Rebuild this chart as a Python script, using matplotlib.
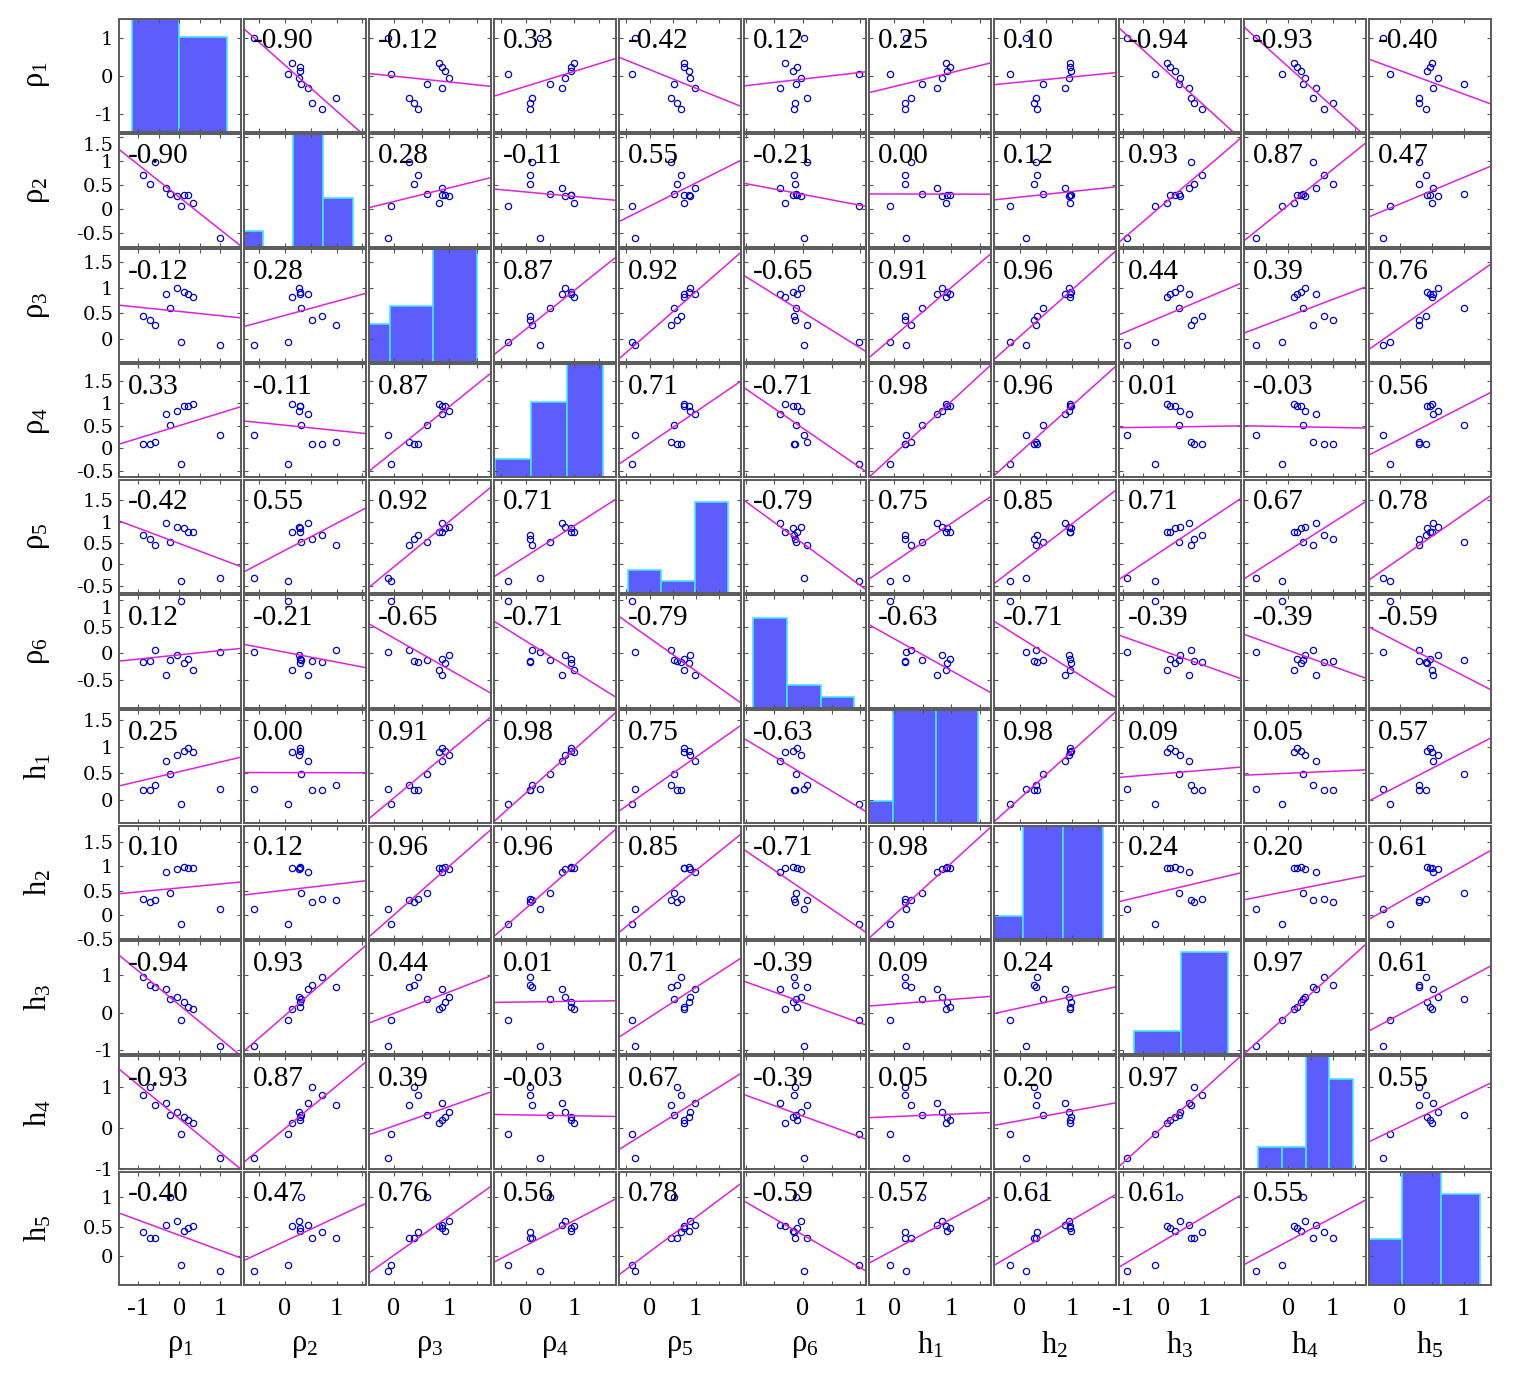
import numpy as np
import matplotlib
matplotlib.use('Agg')
import matplotlib.pyplot as plt
from matplotlib.ticker import MultipleLocator

plt.rcParams['mathtext.fontset'] = 'custom'
plt.rcParams['mathtext.rm'] = 'Liberation Serif'
plt.rcParams['mathtext.it'] = 'Liberation Serif:italic'
plt.rcParams['axes.unicode_minus'] = False

# 11 observations of each variable (same order in every list)
rho1 = [-0.88, -0.71, -0.585, -0.32, -0.22, -0.07, 0.04, 0.12, 0.22, 0.325, 1.0]
rho2 = [0.715, 0.53, 0.98, 0.44, 0.32, 0.28, 0.06, 0.285, 0.285, 0.13, -0.60]
rho3 = [0.44, 0.36, 0.27, 0.87, 0.60, 1.00, -0.05, 0.92, 0.87, 0.82, -0.11]
rho4 = [0.10, 0.09, 0.13, 0.75, 0.51, 0.82, -0.36, 0.94, 0.93, 0.99, 0.30]
rho5 = [0.68, 0.59, 0.46, 0.98, 0.52, 0.87, -0.38, 0.86, 0.75, 0.75, -0.31]
rho6 = [-0.16, -0.14, 0.07, -0.40, -0.12, -0.04, 0.98, -0.18, -0.10, -0.32, 0.02]
h1 = [0.19, 0.18, 0.29, 0.74, 0.48, 0.84, -0.08, 0.925, 0.98, 0.91, 0.21]
h2 = [0.33, 0.27, 0.30, 0.875, 0.45, 0.94, -0.19, 0.99, 0.97, 0.96, 0.11]
h3 = [0.955, 0.75, 0.68, 0.64, 0.38, 0.41, -0.20, 0.29, 0.16, 0.09, -0.90]
h4 = [0.81, 1.0, 0.56, 0.62, 0.33, 0.38, -0.14, 0.275, 0.19, 0.12, -0.73]
h5 = [0.41, 0.31, 0.31, 0.52, 1.0, 0.60, -0.15, 0.43, 0.47, 0.51, -0.26]

names = [r'$\mathrm{ρ}_1$', r'$\mathrm{ρ}_2$', r'$\mathrm{ρ}_3$', r'$\mathrm{ρ}_4$',
         r'$\mathrm{ρ}_5$', r'$\mathrm{ρ}_6$', r'$\mathrm{h}_1$', r'$\mathrm{h}_2$',
         r'$\mathrm{h}_3$', r'$\mathrm{h}_4$', r'$\mathrm{h}_5$']

# printed correlation coefficients (upper triangle, row by row)
corr_upper = [
    [-0.90, -0.12, 0.33, -0.42, 0.12, 0.25, 0.10, -0.94, -0.93, -0.40],
    [0.28, -0.11, 0.55, -0.21, 0.00, 0.12, 0.93, 0.87, 0.47],
    [0.87, 0.92, -0.65, 0.91, 0.96, 0.44, 0.39, 0.76],
    [0.71, -0.71, 0.98, 0.96, 0.01, -0.03, 0.56],
    [-0.79, 0.75, 0.85, 0.71, 0.67, 0.78],
    [-0.63, -0.71, -0.39, -0.39, -0.59],
    [0.98, 0.09, 0.05, 0.57],
    [0.24, 0.20, 0.61],
    [0.97, 0.61],
    [0.55],
]

# axis ranges and ticks per variable
lims = [(-1.47, 1.50), (-0.79, 1.57), (-0.45, 1.75), (-0.65, 1.86), (-0.66, 1.98),
        (-1.03, 1.10), (-0.44, 1.69), (-0.50, 1.85), (-1.10, 1.92), (-1.0, 1.75),
        (-0.48, 1.43)]
yticks = [[-1, 0, 1], [-0.5, 0, 0.5, 1, 1.5], [0, 0.5, 1, 1.5], [-0.5, 0, 0.5, 1, 1.5],
          [-0.5, 0, 0.5, 1, 1.5], [-0.5, 0, 0.5, 1], [0, 0.5, 1, 1.5],
          [-0.5, 0, 0.5, 1, 1.5], [-1, 0, 1], [-1, 0, 1], [0, 0.5, 1]]
xticks = [[-1, 0, 1], [0, 1], [0, 1], [0, 1], [0, 1], [0, 1], [0, 1], [0, 1],
          [-1, 0, 1], [0, 1], [0, 1]]

# histogram settings on the diagonal
bin_width = [1, 0.5, 0.5, 0.5, 0.5, 0.5, 0.5, 0.5, 1, 0.5, 0.5]
hist_lims = [(-1.27, 1.30), (-0.82, 1.21), (-0.24, 1.16), (-0.51, 1.18), (-0.63, 1.19),
             (-0.63, 1.17), (-0.28, 1.15), (-0.36, 1.16), (-1.33, 1.27), (-1.30, 1.27),
             (-0.43, 1.14)]
hist_top = [6, 7, 6, 6, 10, 10, 5, 5, 10, 5, 5]

data = np.array([rho1, rho2, rho3, rho4, rho5, rho6, h1, h2, h3, h4, h5])
n = len(data)
corr = np.eye(n)
for i in range(n - 1):
    for k, v in enumerate(corr_upper[i]):
        corr[i, i + 1 + k] = v
        corr[i + 1 + k, i] = v

W, H = 1514, 1386
fig = plt.figure(figsize=(W / 100, H / 100), dpi=100)

def pos(i, j):
    x0 = 119 + 125 * j
    y0 = 18.5 + 115.3 * i
    return [x0 / W, 1 - (y0 + 113) / H, 122 / W, 113 / H]

for i in range(n):
    for j in range(n):
        if i == j:
            hx = fig.add_axes(pos(i, j), zorder=1)
            d = data[i]
            bw = bin_width[i]
            edges = np.arange(np.floor(d.min() / bw) * bw, np.ceil(d.max() / bw) * bw + bw / 2, bw)
            hx.hist(d, bins=edges, color='#5d5dfb', edgecolor='#45e3ff', linewidth=1.2)
            hx.set_xlim(hist_lims[i])
            hx.set_ylim(0, hist_top[i])
            hx.axis('off')
        ax = fig.add_axes(pos(i, j), zorder=2)
        ax.set_facecolor('none')
        if i != j:
            x = data[j]
            y = data[i]
            ax.plot(x, y, 'o', ms=4.5, mfc='none', mec='#0000c8', mew=0.9)
            b, a = np.polyfit(x, y, 1)
            xx = np.array(lims[j])
            ax.plot(xx, a + b * xx, color='#e020e0', lw=1.1)
            ax.text(0.07, 0.80, '%.2f' % corr[i, j], transform=ax.transAxes,
                    fontsize=21, family='Liberation Serif', va='center', ha='left')
        ax.set_xlim(lims[j])
        ax.set_ylim(lims[i])
        ax.set_xticks(xticks[j])
        ax.xaxis.set_minor_locator(MultipleLocator(0.5))
        ax.set_yticks(yticks[i])
        ax.tick_params(which='both', direction='in', top=True, right=True,
                       length=3, width=0.8, color='#555555')
        for s in ax.spines.values():
            s.set_color('#5a5a5a')
            s.set_linewidth(1.4)
        if i == n - 1:
            ax.set_xticklabels(['%g' % t for t in xticks[j]], fontsize=19,
                               family='Liberation Serif')
            ax.tick_params(axis='x', pad=10)
        else:
            ax.set_xticklabels([])
        if j == 0:
            labs = ax.set_yticklabels(['%g' % t for t in yticks[i]], fontsize=14,
                                      family='DejaVu Serif')
            ax.tick_params(axis='y', pad=4)
            lo, hi = lims[i]
            # a label right at the top edge would run into the row above
            for t, lab in zip(yticks[i], labs):
                if (t - lo) / (hi - lo) > 0.93:
                    lab.set_va('top')
        else:
            ax.set_yticklabels([])

for k in range(n):
    cx = (119 + 125 * k + 61) / W
    fig.text(cx, 1 - 1345 / H, names[k], fontsize=22, ha='center', va='center')
    cy = 1 - (18.5 + 115.3 * k + 56.5) / H
    fig.text(38 / W, cy, names[k], fontsize=22, ha='center', va='center', rotation=90)

fig.savefig('out.png', dpi=100)
